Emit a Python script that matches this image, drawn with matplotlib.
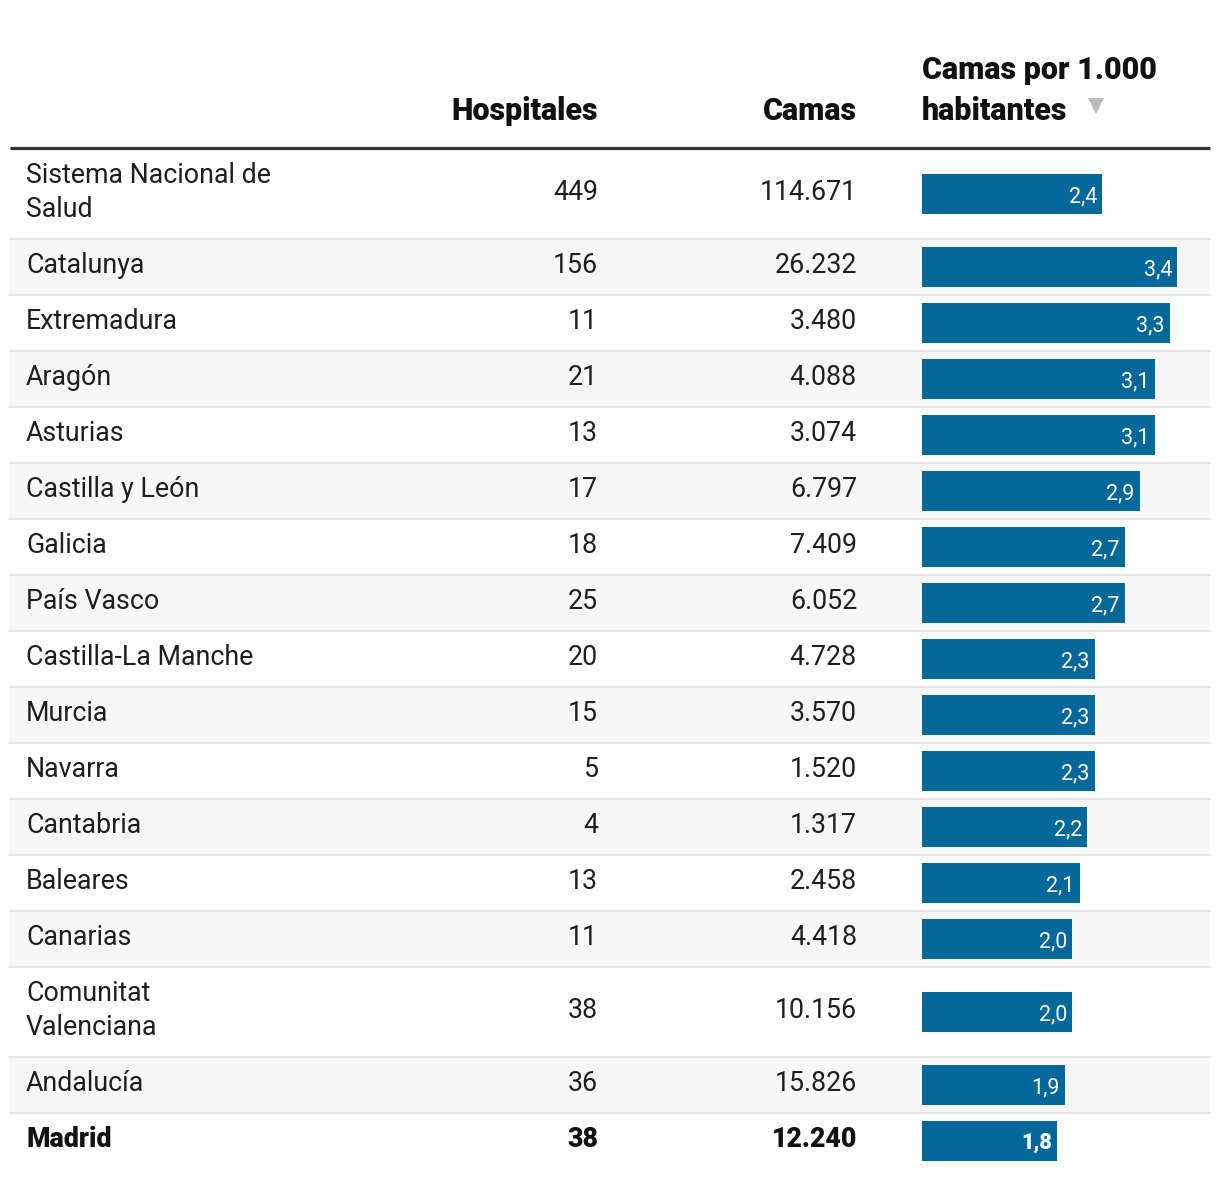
import matplotlib
matplotlib.use("Agg")
import matplotlib.pyplot as plt
from matplotlib.patches import Rectangle

regiones = ["Sistema Nacional de\nSalud", "Catalunya", "Extremadura", "Aragón", "Asturias",
            "Castilla y León", "Galicia", "País Vasco", "Castilla-La Manche", "Murcia",
            "Navarra", "Cantabria", "Baleares", "Canarias", "Comunitat\nValenciana",
            "Andalucía", "Madrid"]
hospitales = [449, 156, 11, 21, 13, 17, 18, 25, 20, 15, 5, 4, 13, 11, 38, 36, 38]
camas = [114671, 26232, 3480, 4088, 3074, 6797, 7409, 6052, 4728, 3570, 1520, 1317,
         2458, 4418, 10156, 15826, 12240]
camas_1000 = [2.4, 3.4, 3.3, 3.1, 3.1, 2.9, 2.7, 2.7, 2.3, 2.3, 2.3, 2.2, 2.1, 2.0,
              2.0, 1.9, 1.8]
destacado = "Madrid"

W, H = 1220, 1178
FONT = "Roboto"
TXT = "#1e1e1e"
BAR = "#05689b"

fig = plt.figure(figsize=(W / 100, H / 100), dpi=100)
ax = fig.add_axes([0, 0, 1, 1])
ax.set_xlim(0, W)
ax.set_ylim(H, 0)
ax.axis("off")

left, right = 10, 1210
x_name, x_hosp, x_camas, x_bar = 26, 598, 857, 922

# header
hdr = dict(va="baseline", fontsize=22, fontweight="heavy", color="#111111", family=FONT)
ax.text(x_hosp, 120, "Hospitales", ha="right", **hdr)
ax.text(x_camas, 120, "Camas", ha="right", **hdr)
ax.text(x_bar, 79, "Camas por 1.000", ha="left", **hdr)
ax.text(x_bar, 120, "habitantes", ha="left", **hdr)
ax.plot([1096], [106], marker="v", markersize=12, color="#bbbbbb", markeredgewidth=0)
ax.plot([left, right], [148, 148], color="#333333", lw=2.3, solid_capstyle="butt")

# bar axes, value scale in camas per 1.000
bax = fig.add_axes([x_bar / W, 0, (right - x_bar) / W, 1])
bax.set_ylim(H, 0)
bax.set_xlim(0, (right - x_bar) / 75)
bax.axis("off")
bax.patch.set_alpha(0)

y = 149
centros = []
for i, nombre in enumerate(regiones):
    nl = nombre.count("\n") + 1
    h = 56 + 34 * (nl - 1)
    c = y + h / 2
    centros.append(c)
    if i % 2 == 1:
        ax.add_patch(Rectangle((left, y), right - left, h, color="#f7f7f7", lw=0, zorder=0))
    if i < len(regiones) - 1:
        ax.plot([left, right], [y + h, y + h], color="#e6e6e6", lw=1.5, zorder=1)
    bold = nombre == destacado
    fw = "heavy" if bold else "normal"
    col = "#111111" if bold else TXT
    for k, linea in enumerate(nombre.split("\n")):
        ax.text(x_name, c + 6 + 34 * (k - (nl - 1) / 2), linea, ha="left", va="baseline",
                fontsize=19.3, fontweight=fw, color=col, family=FONT)
    ax.text(x_hosp, c + 6, f"{hospitales[i]}", ha="right", va="baseline",
            fontsize=19.3, fontweight=fw, color=col, family=FONT)
    ax.text(x_camas, c + 6, f"{camas[i]:,}".replace(",", "."), ha="right", va="baseline",
            fontsize=19.3, fontweight=fw, color=col, family=FONT)
    y += h

bax.barh(centros, camas_1000, height=40, left=0, color=BAR, zorder=2)
for c, v, nombre in zip(centros, camas_1000, regiones):
    bax.annotate(f"{v:.1f}".replace(".", ","), xy=(v, c + 8), xytext=(-5, 0),
                 textcoords="offset pixels", ha="right", va="baseline", fontsize=15.5,
                 color="white", family=FONT,
                 fontweight="heavy" if nombre == destacado else "normal", zorder=3)

fig.savefig("out.png", dpi=100, facecolor="white")
